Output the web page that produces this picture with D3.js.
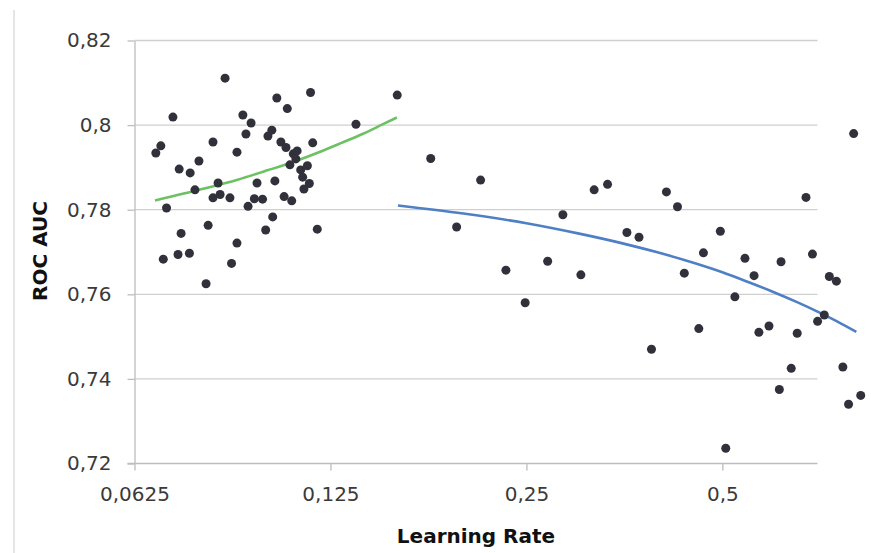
<!DOCTYPE html>
<html>
<head>
<meta charset="utf-8">
<script src="https://cdn.jsdelivr.net/npm/d3@7"></script>
<style>
  html, body { margin: 0; padding: 0; background: #ffffff; }
  svg { display: block; }
</style>
</head>
<body>
<svg id="chart" width="871" height="553"></svg>
<script>
// Learning rate vs ROC AUC for each training run
const lrLow = [0.0861, 0.1034, 0.0716, 0.0917, 0.0944, 0.0927, 0.1016, 0.1002, 0.1049, 0.0686,
  0.0674, 0.0825, 0.0898, 0.0785, 0.0732, 0.0761, 0.0964, 0.1027, 0.0774, 0.0840,
  0.0846, 0.0825, 0.0876, 0.0955, 0.0983, 0.0934, 0.0700, 0.1019, 0.0811, 0.0994,
  0.0737, 0.0898, 0.0692, 0.0729, 0.0759, 0.0881, 0.0805, 0.1165, 0.1073, 0.1583,
  0.1368, 0.1068, 0.1096, 0.1111, 0.1106, 0.1174, 0.1083, 0.1152, 0.1125, 0.1133,
  0.1160, 0.1138, 0.1061, 0.1090, 0.1193];
const aucLow = [0.8111, 0.8064, 0.8019, 0.8024, 0.8005, 0.7979, 0.7988, 0.7974, 0.7960, 0.7951,
  0.7934, 0.7960, 0.7936, 0.7915, 0.7896, 0.7887, 0.7863, 0.7868, 0.7847, 0.7863,
  0.7836, 0.7828, 0.7828, 0.7826, 0.7825, 0.7808, 0.7804, 0.7783, 0.7763, 0.7752,
  0.7744, 0.7721, 0.7683, 0.7694, 0.7697, 0.7673, 0.7625, 0.8077, 0.8039, 0.8071,
  0.8002, 0.7947, 0.7932, 0.7939, 0.7920, 0.7958, 0.7906, 0.7904, 0.7894, 0.7877,
  0.7862, 0.7849, 0.7831, 0.7821, 0.7754];

const lrHigh = [0.1782, 0.2126, 0.1953, 0.2325, 0.2489, 0.2695, 0.2844, 0.3031, 0.3177, 0.3331,
  0.4102, 0.4266, 0.6721, 0.3567, 0.3723, 0.4964, 0.4676, 0.6876, 0.5416, 0.6153,
  0.4370, 0.5593, 0.7299, 0.7484, 0.5226, 0.7170, 0.7002, 0.4600, 0.5689, 0.5896,
  0.6515, 0.3891, 0.6379, 0.7657, 0.6116, 0.7813, 0.8157, 0.5060, 0.7955];
const aucHigh = [0.7921, 0.7870, 0.7759, 0.7657, 0.7580, 0.7678, 0.7788, 0.7646, 0.7847, 0.7860,
  0.7842, 0.7807, 0.7829, 0.7746, 0.7735, 0.7749, 0.7698, 0.7695, 0.7685, 0.7677,
  0.7650, 0.7644, 0.7642, 0.7631, 0.7594, 0.7551, 0.7536, 0.7519, 0.7510, 0.7525,
  0.7508, 0.7470, 0.7425, 0.7428, 0.7375, 0.7340, 0.7361, 0.7236, 0.7980];

// Trend curves for the two learning-rate regimes
const trendLowLr  = [0.0672, 0.08, 0.09, 0.10, 0.11, 0.12, 0.13, 0.14, 0.15, 0.1581];
const trendLowAuc = [0.7822, 0.7850, 0.7871, 0.7893, 0.7914, 0.7936, 0.7958, 0.7979, 0.8001, 0.8018];
const trendHighLr  = [0.1587, 0.20, 0.25, 0.30, 0.35, 0.40, 0.45, 0.50, 0.55, 0.60, 0.65, 0.70, 0.75, 0.8031];
const trendHighAuc = [0.7810, 0.7791, 0.7768, 0.7744, 0.7721, 0.7698, 0.7675, 0.7652, 0.7628, 0.7605,
  0.7582, 0.7559, 0.7536, 0.7511];

const xTicks = [0.0625, 0.125, 0.25, 0.5];
const yTicks = [0.72, 0.74, 0.76, 0.78, 0.80, 0.82];
const xTitle = "Learning Rate";
const yTitle = "ROC AUC";

const svg = d3.select("#chart");
const FONT = "'DejaVu Sans', sans-serif";

const x = d3.scaleLog().base(2).domain([0.0625, 0.7]).range([134.5, 817.5]);
const y = d3.scaleLinear().domain([0.72, 0.82]).range([463.5, 40.5]);

const locale = d3.formatLocale({ decimal: ",", thousands: ".", grouping: [3], currency: ["", "€"] });
const fmt = locale.format("~g");

// page edge line on the left
svg.append("line")
  .attr("x1", 14).attr("x2", 14).attr("y1", 10).attr("y2", 553)
  .attr("stroke", "#dcdcdc").attr("stroke-width", 1.5);

// horizontal gridlines
svg.append("g").selectAll("line").data(yTicks.slice(1)).join("line")
  .attr("x1", x.range()[0]).attr("x2", x.range()[1])
  .attr("y1", d => y(d)).attr("y2", d => y(d))
  .attr("stroke", "#cfcfcf").attr("stroke-width", 1.3);

// y axis
const gy = svg.append("g").attr("transform", `translate(${x.range()[0]},0)`)
  .call(d3.axisLeft(y).tickValues(yTicks).tickFormat(fmt).tickSize(7).tickSizeOuter(0).tickPadding(16));
// x axis
const gx = svg.append("g").attr("transform", `translate(0,${y.range()[0]})`)
  .call(d3.axisBottom(x).tickValues(xTicks).tickFormat(fmt).tickSize(7).tickSizeOuter(0).tickPadding(16));

[gx, gy].forEach(g => {
  g.select(".domain").attr("stroke", "#bdbdbd").attr("stroke-width", 1.3);
  g.selectAll(".tick line").attr("stroke", "#bdbdbd").attr("stroke-width", 1.3);
  g.selectAll(".tick text").attr("fill", "#3a3a3a").style("font-family", FONT).style("font-size", "20px");
});
// extend x axis line leftwards to meet the y tick length
gx.select(".domain").attr("d", `M${x.range()[0] - 7},0H${x.range()[1]}`);

// trend curves
const line = d3.line().x(d => x(d[0])).y(d => y(d[1])).curve(d3.curveMonotoneX);
svg.append("path")
  .datum(trendLowLr.map((v, i) => [v, trendLowAuc[i]]))
  .attr("d", line).attr("fill", "none").attr("stroke", "#6cc163").attr("stroke-width", 2.6);
svg.append("path")
  .datum(trendHighLr.map((v, i) => [v, trendHighAuc[i]]))
  .attr("d", line).attr("fill", "none").attr("stroke", "#4f7fc4").attr("stroke-width", 2.6);

// scatter points
const pts = lrLow.map((v, i) => [v, aucLow[i]]).concat(lrHigh.map((v, i) => [v, aucHigh[i]]));
svg.append("g").selectAll("circle").data(pts).join("circle")
  .attr("cx", d => x(d[0])).attr("cy", d => y(d[1])).attr("r", 4.5)
  .attr("fill", "#31313b");

// axis titles
svg.append("text")
  .attr("x", 476).attr("y", 543).attr("text-anchor", "middle")
  .style("font-family", FONT).style("font-size", "20px").style("font-weight", "bold")
  .attr("fill", "#111").text(xTitle);
svg.append("text")
  .attr("transform", "translate(47,251) rotate(-90)").attr("text-anchor", "middle")
  .style("font-family", FONT).style("font-size", "20px").style("font-weight", "bold")
  .attr("fill", "#111").text(yTitle);
</script>
</body>
</html>
